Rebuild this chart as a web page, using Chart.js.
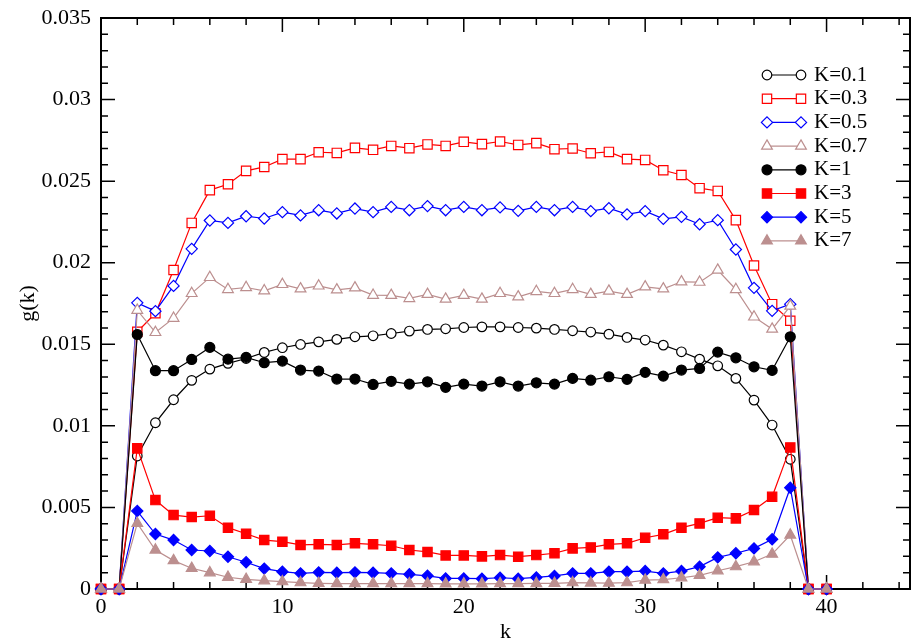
<!DOCTYPE html>
<html>
<head>
<meta charset="utf-8">
<title>g(k)</title>
<script src="https://cdn.jsdelivr.net/npm/chart.js@4/dist/chart.umd.min.js"></script>
<style>
  html, body { margin: 0; padding: 0; background: #fff; }
  canvas { display: block; }
</style>
</head>
<body>
<canvas id="gkChart" width="911" height="641"></canvas>
<script>
// k values (x axis)
const kValues = [0, 1, 2, 3, 4, 5, 6, 7, 8, 9, 10, 11, 12, 13, 14, 15, 16, 17, 18, 19, 20,
                 21, 22, 23, 24, 25, 26, 27, 28, 29, 30, 31, 32, 33, 34, 35, 36, 37, 38, 39, 40];

// g(k) for each K
const gK01 = [0, 0, 0.00815, 0.01019, 0.0116, 0.01279, 0.01348, 0.01383, 0.01413, 0.0145, 0.01479,
  0.01499, 0.01515, 0.0153, 0.01546, 0.01552, 0.01566, 0.01581, 0.01591, 0.01595, 0.01603,
  0.01607, 0.01607, 0.01603, 0.01599, 0.01591, 0.01583, 0.01575, 0.01562, 0.01542, 0.01526,
  0.01495, 0.01454, 0.01409, 0.01368, 0.01291, 0.01158, 0.01005, 0.00795, 0, 0];
const gK03 = [0, 0, 0.01577, 0.0169, 0.01955, 0.02244, 0.02445, 0.02481, 0.02563, 0.02587, 0.02635,
  0.02635, 0.02677, 0.02673, 0.02704, 0.02692, 0.02716, 0.02702, 0.02725, 0.02716, 0.02741,
  0.02727, 0.02743, 0.02722, 0.02733, 0.02696, 0.027, 0.02671, 0.02679, 0.02635, 0.0263,
  0.02567, 0.02538, 0.02457, 0.0244, 0.02261, 0.01983, 0.01746, 0.01644, 0, 0];
const gK05 = [0, 0, 0.01754, 0.01703, 0.01858, 0.02085, 0.02259, 0.02244, 0.02285, 0.02271, 0.0231,
  0.0229, 0.02322, 0.02302, 0.02332, 0.0231, 0.02342, 0.02322, 0.02347, 0.02322, 0.02342,
  0.02322, 0.02339, 0.02318, 0.02342, 0.02322, 0.02342, 0.02316, 0.02334, 0.02296, 0.02316,
  0.02269, 0.02281, 0.02236, 0.02261, 0.02081, 0.01846, 0.01705, 0.01746, 0, 0];
const gK07 = [0, 0, 0.01709, 0.01573, 0.0166, 0.01812, 0.0191, 0.01836, 0.01848, 0.01828, 0.01867,
  0.0184, 0.01858, 0.01834, 0.01846, 0.01801, 0.018, 0.01781, 0.01806, 0.01777, 0.018,
  0.01777, 0.01812, 0.01791, 0.01824, 0.01812, 0.01836, 0.01806, 0.01826, 0.01806, 0.01852,
  0.0184, 0.01883, 0.01881, 0.01955, 0.01836, 0.01668, 0.01593, 0.01734, 0, 0];
const gK1 = [0, 0, 0.0156, 0.01338, 0.01338, 0.01407, 0.01481, 0.01409, 0.0142, 0.01387, 0.01397,
  0.01342, 0.01336, 0.01287, 0.01287, 0.01254, 0.01273, 0.01256, 0.0127, 0.01236, 0.01256,
  0.01244, 0.0127, 0.01244, 0.01264, 0.01256, 0.01291, 0.0128, 0.01301, 0.01285, 0.01328,
  0.01305, 0.01342, 0.01352, 0.01452, 0.01417, 0.01362, 0.0134, 0.01546, 0, 0];
const gK3 = [0, 0, 0.00862, 0.00545, 0.00453, 0.00441, 0.00449, 0.00376, 0.00339, 0.003, 0.0029,
  0.0027, 0.00274, 0.0027, 0.0028, 0.00274, 0.00265, 0.00239, 0.00227, 0.00206, 0.00206,
  0.002, 0.00208, 0.00198, 0.00208, 0.00219, 0.00249, 0.00255, 0.00274, 0.0028, 0.00314,
  0.00335, 0.00376, 0.00402, 0.00437, 0.00433, 0.00484, 0.00565, 0.00868, 0, 0];
const gK5 = [0, 0, 0.00478, 0.00337, 0.003, 0.00239, 0.00233, 0.00198, 0.00164, 0.00125, 0.00106,
  0.00096, 0.00102, 0.001, 0.00102, 0.001, 0.00096, 0.0009, 0.00081, 0.00065, 0.00065,
  0.00063, 0.00069, 0.00063, 0.00071, 0.0008, 0.00096, 0.00096, 0.00106, 0.00106, 0.0011,
  0.00096, 0.0011, 0.00137, 0.00194, 0.00219, 0.00249, 0.00305, 0.00621, 0, 0];
const gK7 = [0, 0, 0.00402, 0.00239, 0.00174, 0.00127, 0.001, 0.00072, 0.00059, 0.00051, 0.00045,
  0.00039, 0.00035, 0.00033, 0.00033, 0.00033, 0.00033, 0.00033, 0.00033, 0.00032, 0.00032,
  0.00032, 0.00033, 0.00033, 0.00034, 0.00035, 0.00039, 0.00037, 0.00036, 0.00039, 0.00055,
  0.00058, 0.00069, 0.00084, 0.00112, 0.00137, 0.00167, 0.00214, 0.00331, 0, 0];

const seriesNames = ['K=0.1', 'K=0.3', 'K=0.5', 'K=0.7', 'K=1', 'K=3', 'K=5', 'K=7'];
const seriesData = [gK01, gK03, gK05, gK07, gK1, gK3, gK5, gK7];

// axis ticks
const xTicks = [0, 10, 20, 30, 40];
const yTicks = [0, 0.005, 0.01, 0.015, 0.02, 0.025, 0.03, 0.035];
const yTickLabels = ['0', '0.005', '0.01', '0.015', '0.02', '0.025', '0.03', '0.035'];

const serif = "'Liberation Serif', 'Times New Roman', serif";
const brown = '#bc8f8f';

// marker style per series
const styles = [
  { color: '#000000', point: 'circle', radius: 4.8, filled: false },
  { color: '#ff0000', point: 'rect', radius: 6.6, filled: false },
  { color: '#0000ff', point: 'rectRot', radius: 5.6, filled: false },
  { color: brown, point: 'triangle', radius: 6.2, filled: false },
  { color: '#000000', point: 'circle', radius: 5, filled: true },
  { color: '#ff0000', point: 'rect', radius: 6.6, filled: true },
  { color: '#0000ff', point: 'rectRot', radius: 5.6, filled: true },
  { color: brown, point: 'triangle', radius: 6.2, filled: true }
];

const datasets = seriesData.map((vals, i) => {
  const s = styles[i];
  return {
    label: seriesNames[i],
    data: vals.map((v, j) => ({ x: kValues[j], y: v })),
    borderColor: s.color,
    borderWidth: 1.2,
    pointStyle: s.point,
    pointRadius: s.radius,
    pointBorderWidth: 1.2,
    pointBorderColor: s.color,
    pointBackgroundColor: s.filled ? s.color : '#ffffff',
    tension: 0,
    fill: false,
    clip: false,
    order: seriesData.length - 1 - i
  };
});

// frame and inward ticks on all four sides
const frameTicks = {
  id: 'frameTicks',
  beforeDatasetsDraw(chart) {
    const { ctx, chartArea: a, scales: { x, y } } = chart;
    ctx.save();
    ctx.strokeStyle = '#000';
    ctx.lineWidth = 1.5;
    ctx.beginPath();
    for (let i = 0; i * 2 <= x.max; i++) {
      const px = x.getPixelForValue(i * 2);
      const len = (i * 2) % 10 === 0 ? 14 : 7;
      ctx.moveTo(px, a.bottom); ctx.lineTo(px, a.bottom - len);
      ctx.moveTo(px, a.top); ctx.lineTo(px, a.top + len);
    }
    for (let i = 0; i <= 35; i++) {
      const py = y.getPixelForValue(i * 0.001);
      const len = i % 5 === 0 ? 14 : 7;
      ctx.moveTo(a.left, py); ctx.lineTo(a.left + len, py);
      ctx.moveTo(a.right, py); ctx.lineTo(a.right - len, py);
    }
    ctx.stroke();
    ctx.lineWidth = 2;
    ctx.strokeRect(a.left, a.top, a.right - a.left, a.bottom - a.top);
    ctx.restore();
  }
};

// legend: line with a marker at each end
const sideLegend = {
  id: 'sideLegend',
  afterDraw(chart) {
    const { ctx, chartArea: a } = chart;
    const x0 = a.left + 666, x1 = a.left + 700, tx = a.left + 713;
    ctx.save();
    ctx.font = '21px ' + serif;
    ctx.textBaseline = 'middle';
    ctx.textAlign = 'left';
    chart.data.datasets.forEach((ds, i) => {
      const yy = a.top + 57 + i * 23.7;
      ctx.strokeStyle = ds.borderColor;
      ctx.lineWidth = 1.2;
      ctx.beginPath();
      ctx.moveTo(x0, yy); ctx.lineTo(x1, yy);
      ctx.stroke();
      ctx.fillStyle = ds.pointBackgroundColor;
      ctx.strokeStyle = ds.pointBorderColor;
      const opts = { pointStyle: ds.pointStyle, radius: ds.pointRadius, rotation: 0, borderWidth: ds.pointBorderWidth };
      Chart.helpers.drawPoint(ctx, opts, x0, yy);
      Chart.helpers.drawPoint(ctx, opts, x1, yy);
      ctx.fillStyle = '#000';
      ctx.fillText(ds.label, tx, yy);
    });
    ctx.restore();
  }
};

const ctx = document.getElementById('gkChart').getContext('2d');
new Chart(ctx, {
  type: 'line',
  data: { datasets: datasets },
  options: {
    responsive: false,
    animation: false,
    layout: { autoPadding: false, padding: { top: 18, right: 1, left: 0, bottom: 0 } },
    plugins: {
      legend: { display: false },
      tooltip: { enabled: false }
    },
    scales: {
      x: {
        type: 'linear',
        min: 0,
        max: 44.6,
        grid: { display: false, drawTicks: false },
        border: { display: false },
        afterBuildTicks: scale => { scale.ticks = xTicks.map(v => ({ value: v })); },
        afterFit: scale => {
          scale.height = 52;
          scale.paddingLeft = 0;
          scale.paddingRight = 0;
        },
        ticks: {
          padding: 5,
          maxRotation: 0,
          color: '#000',
          font: { family: serif, size: 22 },
          callback: v => String(v)
        },
        title: {
          display: true,
          text: 'k',
          color: '#000',
          font: { family: serif, size: 22, lineHeight: 1 },
          padding: { top: 0, bottom: -2 }
        }
      },
      y: {
        type: 'linear',
        min: 0,
        max: 0.035,
        grid: { display: false, drawTicks: false },
        border: { display: false },
        afterBuildTicks: scale => { scale.ticks = yTicks.map(v => ({ value: v })); },
        afterFit: scale => {
          scale.width = 101;
          scale.paddingTop = 0;
          scale.paddingBottom = 0;
        },
        ticks: {
          padding: 10,
          color: '#000',
          font: { family: serif, size: 22 },
          callback: (v, idx) => yTickLabels[idx]
        },
        title: {
          display: true,
          text: 'g(k)',
          color: '#000',
          font: { family: serif, size: 22, lineHeight: 1 },
          padding: { top: 17, bottom: 0 }
        }
      }
    }
  },
  plugins: [frameTicks, sideLegend]
});
</script>
</body>
</html>
